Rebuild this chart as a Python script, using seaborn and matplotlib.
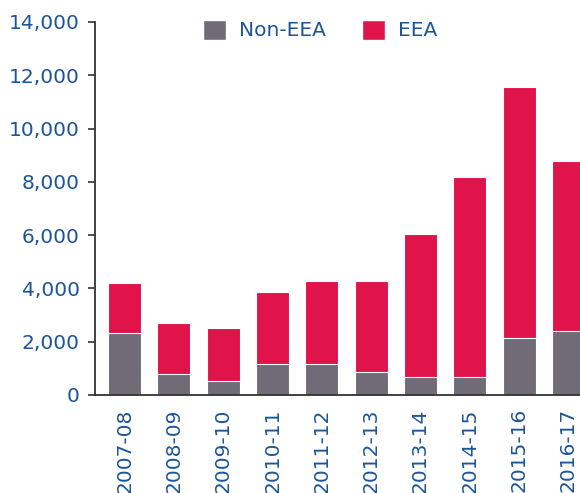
import matplotlib
matplotlib.use("Agg")
import matplotlib.pyplot as plt
import seaborn as sns
import pandas as pd
from matplotlib.patches import Patch
from matplotlib.ticker import FuncFormatter

# values
years = ["2007-08", "2008-09", "2009-10", "2010-11", "2011-12",
         "2012-13", "2013-14", "2014-15", "2015-16", "2016-17"]
non_eea = [2330, 780, 540, 1160, 1160, 850, 680, 680, 2130, 2400]
eea = [1870, 1920, 1990, 2690, 3130, 3440, 5360, 7500, 9430, 6380]

grey = "#716b78"
red = "#e0134a"
blue = "#1b5599"

df = pd.DataFrame({"year": years, "non_eea": non_eea, "eea": eea})
df["total"] = df["non_eea"] + df["eea"]

sns.set_style("white")
plt.rcParams["font.family"] = ["DejaVu Sans"]

fig = plt.figure(figsize=(5.8, 4.93), dpi=100)
ax = fig.add_axes([95 / 580, 98 / 493, 503 / 580, 373 / 493])

# stacked: total in red, non-EEA drawn on top in grey
sns.barplot(data=df, x="year", y="total", color=red, width=0.67,
            edgecolor="white", linewidth=0.8, saturation=1, ax=ax)
sns.barplot(data=df, x="year", y="non_eea", color=grey, width=0.67,
            edgecolor="white", linewidth=0.8, saturation=1, ax=ax)

ax.set_xlim(-0.6, 9.6)
ax.set_ylim(0, 14000)
ax.set_yticks(range(0, 14001, 2000))
ax.yaxis.set_major_formatter(FuncFormatter(lambda v, p: f"{int(v):,}"))
ax.set_xlabel("")
ax.set_ylabel("")

for s in ["top", "right"]:
    ax.spines[s].set_visible(False)
for s in ["left", "bottom"]:
    ax.spines[s].set_color("#333333")
    ax.spines[s].set_linewidth(1.3)

ax.tick_params(axis="y", which="major", left=True, length=5, width=1.2,
               color="#333333", labelsize=14.5, labelcolor=blue, pad=6)
ax.tick_params(axis="x", bottom=False, labelsize=14.5, labelcolor=blue,
               labelrotation=90, pad=6)

handles = [Patch(facecolor=grey, label="Non-EEA"), Patch(facecolor=red, label="EEA")]
fig.legend(handles=handles, loc="center", bbox_to_anchor=(320 / 580, 1 - 30 / 493),
           ncol=2, frameon=False, fontsize=14.5, labelcolor=blue,
           handlelength=1.15, handleheight=1.15, handletextpad=0.65,
           columnspacing=1.8)

fig.savefig("out.png", dpi=100)
